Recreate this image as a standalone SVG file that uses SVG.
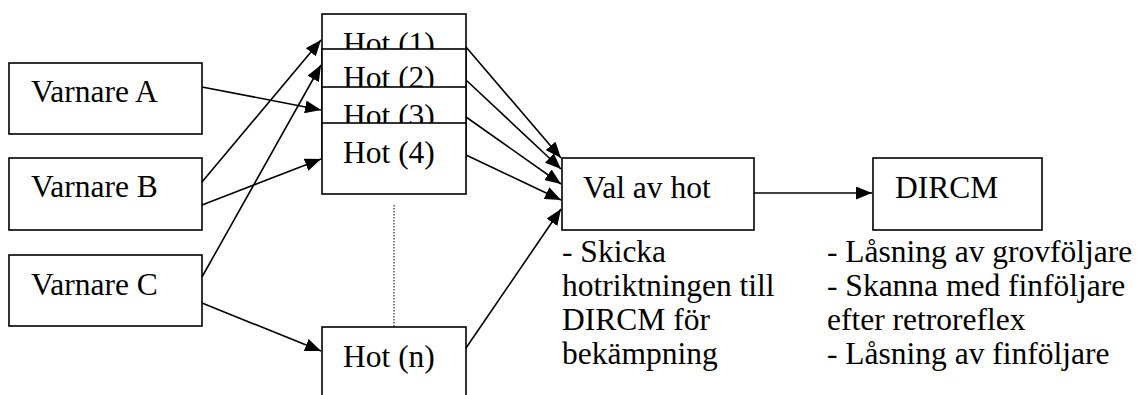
<svg xmlns="http://www.w3.org/2000/svg" width="1138" height="395" viewBox="0 0 1138 395">
<style>
.box{fill:#fff;stroke:#000;stroke-width:1.6}
.t{font-family:'Liberation Serif','Times New Roman',serif;font-size:31.5px;fill:#000}
.c{stroke:#000;stroke-width:1.6;fill:none;marker-end:url(#ah)}
</style>
<defs>
<marker id="ah" markerUnits="userSpaceOnUse" markerWidth="17" markerHeight="13" refX="16" refY="6.5" orient="auto">
<path d="M0,0 L16,6.5 L0,13 Z" fill="#000"/>
</marker>
</defs>
<rect width="1138" height="395" fill="#fff"/>
<g id="varnareA"><rect class="box" x="9" y="63" width="193" height="71"/><text class="t" x="31" y="102">Varnare A</text></g>
<g id="varnareB"><rect class="box" x="9" y="158" width="193" height="72"/><text class="t" x="31" y="197">Varnare B</text></g>
<g id="varnareC"><rect class="box" x="9" y="255" width="193" height="71"/><text class="t" x="31" y="295">Varnare C</text></g>
<g id="hot1"><rect class="box" x="322" y="14" width="144" height="72"/><text class="t" x="343" y="54">Hot (1)</text></g>
<g id="hot2"><rect class="box" x="322" y="49" width="144" height="72"/><text class="t" x="343" y="88">Hot (2)</text></g>
<g id="hot3"><rect class="box" x="322" y="87" width="144" height="72"/><text class="t" x="343" y="126">Hot (3)</text></g>
<g id="hot4"><rect class="box" x="322" y="123" width="144" height="71"/><text class="t" x="343" y="163">Hot (4)</text></g>
<g id="hotn"><rect class="box" x="322" y="327" width="144" height="72"/><text class="t" x="343" y="367">Hot (n)</text></g>
<g id="val"><rect class="box" x="562" y="158" width="192" height="72"/><text class="t" x="583" y="198">Val av hot</text>
<text class="t" x="562" y="262">- Skicka</text><text class="t" x="562" y="296">hotriktningen till</text><text class="t" x="562" y="330">DIRCM för</text><text class="t" x="562" y="364">bekämpning</text></g>
<g id="dircm"><rect class="box" x="873" y="158" width="169" height="72"/><text class="t" x="895" y="198">DIRCM</text>
<text class="t" x="827" y="262">- Låsning av grovföljare</text><text class="t" x="827" y="296">- Skanna med finföljare</text><text class="t" x="827" y="330">efter retroreflex</text><text class="t" x="827" y="364">- Låsning av finföljare</text></g>
<g id="connectors">
<line class="c" x1="202" y1="87" x2="321" y2="110"/>
<line class="c" x1="202" y1="182" x2="321" y2="40"/>
<line class="c" x1="202" y1="205" x2="321" y2="159"/>
<line class="c" x1="202" y1="277" x2="321" y2="65"/>
<line class="c" x1="202" y1="303" x2="321" y2="351"/>
<line class="c" x1="466" y1="47" x2="561" y2="158"/>
<line class="c" x1="466" y1="80" x2="561" y2="169"/>
<line class="c" x1="466" y1="117" x2="561" y2="184"/>
<line class="c" x1="466" y1="155" x2="561" y2="200"/>
<line class="c" x1="466" y1="348" x2="561" y2="209"/>
<line class="c" x1="754" y1="193" x2="872" y2="193"/>
<line x1="394" y1="205" x2="394" y2="327" stroke="#000" stroke-width="1" stroke-dasharray="1.5 1.5"/>
</g>
</svg>
